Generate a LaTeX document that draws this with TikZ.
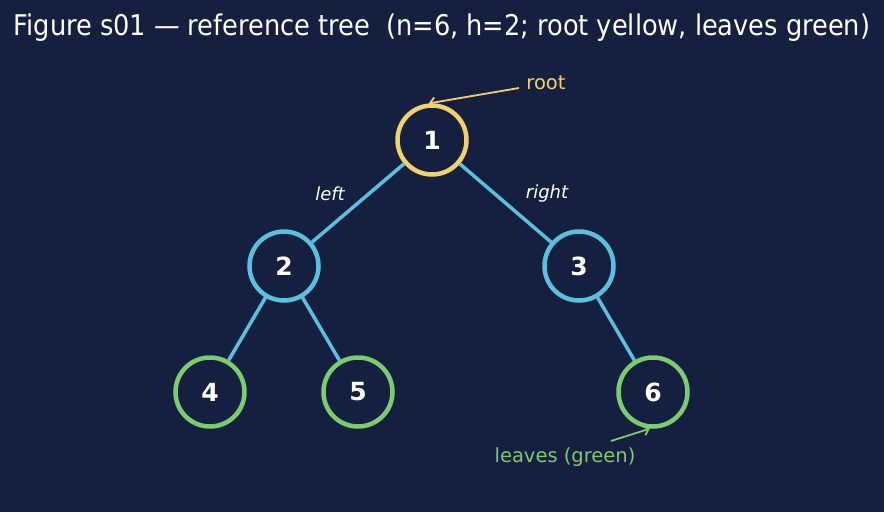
\documentclass[tikz,border=0pt]{standalone}
\usepackage{fontspec}
\setmainfont{DejaVu Sans}
\newfontfamily\condfont{DejaVu Sans Condensed}
\usetikzlibrary{arrows.meta}
\definecolor{bg}{HTML}{152040}
\definecolor{rootc}{HTML}{F2D16B}
\definecolor{innerc}{HTML}{5BC0DE}
\definecolor{leafc}{HTML}{7CCB6E}
\tikzset{
  treenode/.style={circle, minimum size=69pt, inner sep=0pt, line width=4.5pt, fill=bg, text=white, font=\fontsize{25}{28}\selectfont\bfseries},
  rootnode/.style={treenode, draw=rootc},
  innernode/.style={treenode, draw=innerc},
  leafnode/.style={treenode, draw=leafc},
  edge/.style={draw=innerc, line width=3.5pt},
  elabel/.style={text=white, font=\fontsize{18}{20}\selectfont\itshape},
  annot/.style={font=\fontsize{19.5}{22}\selectfont},
}
\begin{document}
\begin{tikzpicture}[x=1pt,y=-1pt]
\fill[bg] (0,0) rectangle (884,512);
\useasboundingbox (0,0) rectangle (884,512);
\node[text=white, font=\condfont\fontsize{28.5}{32}\selectfont] (title) at (442,28) {Figure s01 — reference tree\ \ (n=6, h=2; root yellow, leaves green)};
\node[rootnode] (n1) at (432,140) {1};
\node[innernode] (n2) at (284,266) {2};
\node[innernode] (n3) at (579,266) {3};
\node[leafnode] (n4) at (210,392) {4};
\node[leafnode] (n5) at (358,392) {5};
\node[leafnode] (n6) at (653,392) {6};
\path[edge] (n1) -- (n2);
\path[edge] (n1) -- (n3);
\path[edge] (n2) -- (n4);
\path[edge] (n2) -- (n5);
\path[edge] (n3) -- (n6);
\node[elabel] (ll) at (330,193.5) {left};
\node[elabel] (rl) at (547,193.5) {right};
\node[annot, text=rootc] (rt) at (546,83) {root};
\coordinate (rtail) at (519,88);
\draw[rootc, line width=1.8pt, -{Straight Barb[length=5pt,width=10pt]}] (rtail) -- (n1.95);
\node[annot, text=leafc] (lv) at (565,457.5) {leaves (green)};
\coordinate (ltail) at (611,441);
\draw[leafc, line width=1.8pt, -{Straight Barb[length=5pt,width=10pt]}] (ltail) -- (n6.-95);
\end{tikzpicture}
\end{document}
